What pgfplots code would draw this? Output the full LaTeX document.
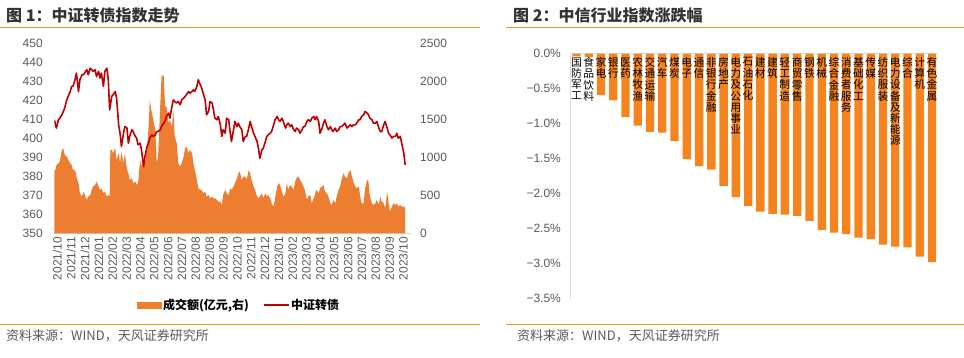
\documentclass[border=0pt]{standalone}
\usepackage{pgfplots}
\pgfplotsset{compat=1.18}
\usepackage{fontspec}
\setmainfont{Liberation Sans}
\newfontfamily\cjk{Noto Sans CJK SC}
\definecolor{areaor}{HTML}{ED7D31}
\definecolor{baror}{HTML}{F5841F}
\definecolor{lred}{HTML}{C00000}
\definecolor{ruleor}{HTML}{F7941D}
\definecolor{txt}{HTML}{595959}
\definecolor{axgray}{HTML}{D9D9D9}

\pgfplotstableread{
d v
0 409.9
3 405.5
6 409.9
8 410.7
11 412.5
13 414.3
15 416.0
18 420.4
20 422.2
23 424.8
25 427.5
27 427.5
30 431.0
32 434.5
35 424.8
37 431.0
40 433.6
42 433.6
47 436.3
49 433.6
52 437.1
54 436.3
56 435.4
59 436.3
61 432.7
64 435.4
66 431.9
68 434.5
71 427.5
73 435.4
76 437.1
78 431.0
80 415.1
83 422.2
85 423.1
88 424.8
90 421.3
93 407.2
95 402.8
97 395.8
100 402.8
102 406.3
105 405.5
107 397.5
109 401.1
112 404.6
114 403.7
117 401.1
119 400.2
121 396.7
124 397.5
126 394.0
129 385.2
131 390.5
134 395.8
136 397.5
138 400.2
141 401.9
143 401.1
146 401.9
148 403.7
150 403.7
153 404.6
155 406.3
158 408.1
160 409.0
162 411.6
165 413.4
167 410.7
170 416.9
172 420.4
174 419.5
177 418.7
179 419.5
182 417.8
184 420.4
187 421.3
189 422.2
191 423.1
194 424.8
196 423.9
199 424.8
201 425.7
203 424.8
206 427.5
208 431.0
211 428.3
213 426.6
215 423.9
218 420.4
220 412.5
223 414.3
225 419.5
228 418.7
230 415.1
232 410.7
235 409.9
237 411.6
240 407.2
242 401.1
244 404.6
247 402.8
249 410.7
252 409.9
254 403.7
256 398.4
259 404.6
261 409.0
264 406.3
266 408.1
268 406.3
271 404.6
273 398.4
276 401.1
278 401.1
281 405.5
283 409.0
285 406.3
288 402.8
290 401.1
293 398.4
295 394.9
297 389.6
300 394.0
302 394.9
305 398.4
307 401.1
309 401.9
312 402.8
314 403.7
317 407.2
319 409.9
322 411.6
324 409.9
326 409.0
329 410.7
331 409.0
334 405.5
336 407.2
338 408.1
341 406.3
343 407.2
346 404.6
348 403.7
350 405.5
353 404.6
355 402.8
358 404.6
360 406.3
362 406.3
365 409.0
367 409.9
370 409.0
372 410.7
375 411.6
377 409.9
379 411.6
382 409.0
384 402.8
387 405.5
389 408.1
391 409.9
394 406.3
396 404.6
399 406.3
401 404.6
403 403.7
406 405.5
408 403.7
411 404.6
413 406.3
415 406.3
418 407.2
420 408.1
423 405.5
425 406.3
428 407.2
430 406.3
432 407.2
435 407.2
437 408.1
440 409.9
442 409.9
444 411.6
447 412.5
449 414.3
452 413.4
454 412.5
456 410.7
459 409.9
461 408.1
464 408.1
466 409.0
469 405.5
471 403.7
473 403.7
476 407.2
478 409.0
481 405.5
483 402.8
485 401.9
488 400.2
490 401.1
493 401.1
495 402.8
497 400.2
500 401.1
502 397.5
505 392.3
507 386.1
}\lineTable

\pgfplotstableread{
d vol
0 836
1 814
3 902
6 924
8 946
11 1100
13 1122
15 1034
18 1012
20 968
23 924
25 902
27 836
30 836
32 748
35 660
37 528
40 484
42 550
44 506
47 440
49 484
52 506
54 572
56 616
59 638
61 682
64 616
66 572
68 594
71 528
73 550
76 484
78 506
80 484
81 1100
83 1100
85 1056
88 1122
90 968
93 1056
95 924
97 1078
100 924
102 1056
105 836
107 792
109 704
112 726
114 660
117 682
119 638
121 660
124 968
126 880
129 968
131 924
134 1144
136 1364
138 1760
141 1584
143 1496
146 1364
148 924
150 1012
153 1672
155 2068
158 2090
160 1672
162 1672
165 1452
167 1496
170 1408
172 1628
174 1276
177 1188
179 924
182 880
184 924
187 1012
189 1122
191 1144
194 1056
196 1100
199 1056
201 924
203 836
206 704
208 594
211 572
213 572
215 528
218 550
220 484
223 506
225 462
228 484
230 462
232 462
235 440
237 418
240 418
242 374
244 506
247 572
249 528
252 506
254 594
256 572
259 616
261 660
264 726
266 792
268 814
271 704
273 748
276 748
278 704
281 836
283 792
285 704
288 616
290 572
293 484
295 462
297 484
300 528
302 462
305 528
307 484
309 506
312 462
314 396
317 352
319 462
322 616
324 660
326 638
329 550
331 484
334 528
336 660
338 572
341 638
343 616
346 572
348 682
350 726
353 748
355 704
358 660
360 616
362 572
365 440
367 484
370 506
372 396
375 462
377 528
379 572
382 528
384 594
387 616
389 638
391 550
394 528
396 484
399 396
401 374
403 440
406 396
408 484
411 572
413 616
415 704
418 792
420 748
423 726
425 792
428 836
430 748
432 682
435 616
437 594
440 616
442 484
444 396
447 396
449 594
452 704
454 682
456 484
459 396
461 374
464 396
466 440
469 374
471 484
473 418
476 396
478 330
481 550
483 396
485 286
488 352
490 396
493 374
495 396
497 352
500 374
502 352
505 352
507 352
}\volTable

\pgfplotstableread{
i val
0 -0.04
1 -0.05
2 -0.59
3 -0.67
4 -0.91
5 -1.03
6 -1.12
7 -1.13
8 -1.25
9 -1.51
10 -1.61
11 -1.66
12 -1.89
13 -2.05
14 -2.18
15 -2.26
16 -2.29
17 -2.30
18 -2.32
19 -2.39
20 -2.52
21 -2.56
22 -2.58
23 -2.63
24 -2.65
25 -2.73
26 -2.76
27 -2.77
28 -2.90
29 -2.98
}\barTable

\pgfplotsset{
  /pgf/number format/assume math mode=true,
  /pgf/number format/1000 sep={},
  tickfont/.style={font=\fontsize{12}{12}\selectfont, text=txt},
}

\begin{document}
\begin{tikzpicture}[x=1pt,y=1pt]
\path[use as bounding box] (0,0) rectangle (964,357);

% ---------- frame texts and rules ----------
\node[anchor=west, inner sep=0, text=black!80, font=\cjk\bfseries\fontsize{16}{16}\selectfont] at (6,342) {图 1：中证转债指数走势};
\node[anchor=west, inner sep=0, text=black!80, font=\cjk\bfseries\fontsize{16}{16}\selectfont] at (513,342) {图 2：中信行业指数涨跌幅};
\draw[ruleor, line width=1pt] (0,329.3) -- (480,329.3);
\draw[ruleor, line width=1pt] (506,329.3) -- (964,329.3);
\draw[ruleor, line width=1pt] (0,33) -- (480,33);
\draw[ruleor, line width=1pt] (506,33) -- (964,33);
\node[anchor=west, inner sep=0, text=txt, font=\cjk\fontsize{13}{13}\selectfont] at (6,21) {资料来源：WIND，天风证券研究所};
\node[anchor=west, inner sep=0, text=txt, font=\cjk\fontsize{13}{13}\selectfont] at (517,21) {资料来源：WIND，天风证券研究所};

% ---------- left chart: volume (right axis) ----------
\begin{axis}[
  at={(54.3pt,123.7pt)}, anchor=south west,
  width=356.4pt, height=189.6pt, scale only axis,
  xmin=0, xmax=515, ymin=0, ymax=2500,
  axis y line*=right, axis x line*=bottom,
  x axis line style={draw=axgray, line width=0.8pt},
  y axis line style={draw=none},
  major tick length=0pt,
  ytick={0,500,...,2500},
  yticklabel style={tickfont, anchor=west, xshift=6pt},
  xtick={0,20,...,500},
  xticklabels={2021/10,2021/11,2021/12,2022/01,2022/02,2022/03,2022/04,2022/05,2022/06,2022/07,2022/08,2022/08,2022/09,2022/10,2022/11,2022/12,2023/01,2023/02,2023/03,2023/04,2023/05,2023/06,2023/07,2023/08,2023/09,2023/10},
  xticklabel style={tickfont, rotate=90, anchor=east, yshift=-3pt},
  clip=false,
]
\addplot[fill=areaor, draw=none] table[x=d, y=vol] {\volTable} \closedcycle;
\end{axis}

% ---------- left chart: index (left axis) ----------
\begin{axis}[
  at={(54.3pt,123.7pt)}, anchor=south west,
  width=356.4pt, height=189.6pt, scale only axis,
  xmin=0, xmax=515, ymin=350, ymax=450,
  axis y line*=left, axis x line=none,
  y axis line style={draw=none},
  major tick length=0pt,
  ytick={350,360,...,450},
  yticklabel style={tickfont, anchor=east, xshift=-8pt},
  legend style={at={(0.518,-0.379)}, anchor=center, draw=none, fill=none,
    legend columns=2, font=\cjk\bfseries\fontsize{12}{12}\selectfont,
    /tikz/every even column/.append style={column sep=12pt}},
]
\addlegendimage{legend image code/.code={\fill[areaor] (0pt,-3pt) rectangle (24pt,3pt);}}
\addlegendentry{成交额(亿元,右)}
\addplot[lred, line width=1.6pt, line join=round,
  legend image code/.code={\draw[lred, line width=1.4pt] (0pt,0pt) -- (25pt,0pt);}]
  table[x=d, y=v] {\lineTable};
\addlegendentry{中证转债}
\end{axis}

% ---------- right chart ----------
\begin{axis}[
  at={(570.4pt,58.5pt)}, anchor=south west,
  width=367.7pt, height=245pt, scale only axis,
  xmin=-0.5, xmax=29.5, ymin=-3.5, ymax=0,
  axis x line*=top, axis y line*=left,
  axis line style={draw=axgray, line width=0.8pt},
  major tick length=0pt,
  xtick=\empty,
  ytick={-3.5,-3,...,0},
  yticklabels={−3.5\%,−3.0\%,−2.5\%,−2.0\%,−1.5\%,−1.0\%,−0.5\%,0.0\%},
  yticklabel style={tickfont, anchor=east, xshift=-6pt},
  clip=false,
]
\addplot[ybar, bar width=8.3pt, fill=baror, draw=none] table[x=i, y=val] {\barTable};
\tikzset{lab/.style={anchor=north, align=center, inner sep=0, yshift=-4pt, text=black, font=\cjk\fontsize{10.8}{11.1}\selectfont}}
\node[lab] at (axis cs:0,0) {国\\防\\军\\工};
\node[lab] at (axis cs:1,0) {食\\品\\饮\\料};
\node[lab] at (axis cs:2,0) {家\\电};
\node[lab] at (axis cs:3,0) {银\\行};
\node[lab] at (axis cs:4,0) {医\\药};
\node[lab] at (axis cs:5,0) {农\\林\\牧\\渔};
\node[lab] at (axis cs:6,0) {交\\通\\运\\输};
\node[lab] at (axis cs:7,0) {汽\\车};
\node[lab] at (axis cs:8,0) {煤\\炭};
\node[lab] at (axis cs:9,0) {电\\子};
\node[lab] at (axis cs:10,0) {通\\信};
\node[lab] at (axis cs:11,0) {非\\银\\行\\金\\融};
\node[lab] at (axis cs:12,0) {房\\地\\产};
\node[lab] at (axis cs:13,0) {电\\力\\及\\公\\用\\事\\业};
\node[lab] at (axis cs:14,0) {石\\油\\石\\化};
\node[lab] at (axis cs:15,0) {建\\材};
\node[lab] at (axis cs:16,0) {建\\筑};
\node[lab] at (axis cs:17,0) {轻\\工\\制\\造};
\node[lab] at (axis cs:18,0) {商\\贸\\零\\售};
\node[lab] at (axis cs:19,0) {钢\\铁};
\node[lab] at (axis cs:20,0) {机\\械};
\node[lab] at (axis cs:21,0) {综\\合\\金\\融};
\node[lab] at (axis cs:22,0) {消\\费\\者\\服\\务};
\node[lab] at (axis cs:23,0) {基\\础\\化\\工};
\node[lab] at (axis cs:24,0) {传\\媒};
\node[lab] at (axis cs:25,0) {纺\\织\\服\\装};
\node[lab] at (axis cs:26,0) {电\\力\\设\\备\\及\\新\\能\\源};
\node[lab] at (axis cs:27,0) {综\\合};
\node[lab] at (axis cs:28,0) {计\\算\\机};
\node[lab] at (axis cs:29,0) {有\\色\\金\\属};
\end{axis}
\end{tikzpicture}
\end{document}
